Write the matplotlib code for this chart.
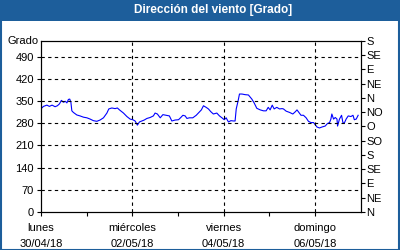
import matplotlib
matplotlib.use("Agg")
import matplotlib.pyplot as plt
from matplotlib.patches import Rectangle

# ── data: hours since lunes 30/04/18 00:00, wind direction in degrees ──
hours = [0, 1.4, 3.2, 4.5, 5.9, 7.5, 8.7, 9.8, 10.8, 11.9, 12.9, 13.7, 14.5, 15.2,
         15.8, 16.3, 17.1, 18.9, 20.6, 22.4, 24.2, 25.9, 27.6, 29.4, 31.1, 32.9,
         34.7, 35.7, 37.3, 39.0, 40.2, 41.3, 43.4, 45.2, 46.9, 48.3, 49.5, 50.7,
         51.8, 53.0, 54.3, 55.7, 57.4, 59.1, 60.0, 61.2, 62.7, 64.1, 65.8, 67.5,
         68.8, 70.5, 72.3, 73.5, 74.6, 75.8, 76.7, 78.0, 79.8, 81.6, 83.0, 84.3,
         85.4, 86.8, 88.0, 89.3, 90.6, 92.4, 93.8, 95.1, 96.3, 97.3, 98.5, 99.8,
         101.2, 102.0, 102.6, 103.6, 104.3, 105.6, 107.3, 109.0, 110.8, 112.0,
         113.4, 115.2, 116.9, 118.3, 119.4, 120.4, 121.5, 122.5, 123.9, 125.3,
         126.7, 127.4, 128.8, 130.6, 132.3, 133.6, 134.5, 135.5, 136.6, 137.9,
         139.3, 140.5, 141.8, 143.2, 145.0, 146.3, 147.6, 149.3, 150.5, 151.6,
         152.3, 152.8, 153.7, 154.6, 155.5, 155.8, 156.8, 157.9, 158.6, 159.3,
         160.3, 161.4, 162.8, 163.9, 164.6, 165.6, 166.6]
direction = [325, 333, 337, 333, 337, 332, 335, 341, 352, 346, 349, 344, 355, 356,
             346, 319, 314, 306, 303, 299, 297, 293, 288, 286, 290, 297,
             312, 325, 328, 326, 328, 322, 312, 301, 293, 291, 287, 274,
             284, 287, 290, 295, 298, 303, 312, 309, 297, 307, 305, 303,
             287, 290, 291, 298, 305, 303, 295, 297, 297, 305, 314, 322,
             335, 330, 325, 316, 309, 312, 303, 297, 291, 297, 284, 288,
             287, 287, 325, 351, 372, 372, 370, 369, 356, 344,
             327, 322, 319, 319, 330, 322, 337, 325, 330, 325,
             326, 325, 318, 314, 309, 316, 322, 314, 305, 305,
             297, 286, 282, 282, 268, 265, 268, 271, 279, 282,
             293, 309, 293, 298, 293, 271, 293, 305, 282, 280,
             293, 303, 301, 305, 291, 293, 305]

day_ticks = [0, 48, 96, 144]
day_labels = ["lunes\n30/04/18", "miércoles\n02/05/18", "viernes\n04/05/18", "domingo\n06/05/18"]
left_ticks = [0, 70, 140, 210, 280, 350, 420, 490]
compass = ["N", "NE", "E", "SE", "S", "SO", "O", "NO", "N", "NE", "E", "SE", "S"]

BLUE = "#1D5E9B"
plt.rcParams["font.family"] = ["Liberation Sans", "DejaVu Sans"]

fig = plt.figure(figsize=(4, 2.5), dpi=100)
fig.patch.set_facecolor("white")

# title bar + frame
fig.patches.append(Rectangle((0, 0.917), 1, 0.083, transform=fig.transFigure,
                             facecolor=BLUE, edgecolor="none", zorder=0))
fig.patches.append(Rectangle((0.0015, 0.002), 0.996, 0.996, transform=fig.transFigure,
                             facecolor="none", edgecolor=BLUE, linewidth=1.5, zorder=1))
fig.text(0.533, 0.958, "Dirección del viento [Grado]", color="white",
         fontsize=8.5, fontweight="bold", ha="center", va="center")

ax = fig.add_axes([0.102, 0.152, 0.8, 0.685])
ax.plot(hours, direction, color="#0000FF", linewidth=0.8)
ax.set_xlim(0, 168)
ax.set_ylim(0, 540)

ax.set_yticks(left_ticks)
ax.set_yticklabels([str(v) for v in left_ticks], fontsize=8)
ax.set_xticks(day_ticks)
ax.set_xticks([24, 72, 120], minor=True)
ax.set_xticklabels(day_labels, fontsize=8, linespacing=1.75)
ax.tick_params(axis="both", which="both", length=3, width=0.8, pad=2, color="black")
ax.tick_params(axis="x", which="major", pad=5)

for v in left_ticks[1:]:
    ax.axhline(v, color="black", linestyle=(0, (3, 3)), linewidth=0.8)
for h in day_ticks[1:]:
    ax.axvline(h, color="black", linestyle=(0, (3, 3)), linewidth=0.8)

for s in ax.spines.values():
    s.set_linewidth(0.8)

ax2 = ax.twinx()
ax2.set_ylim(0, 540)
ax2.set_yticks([45 * i for i in range(len(compass))])
ax2.set_yticklabels(compass, fontsize=8)
ax2.tick_params(axis="y", length=3, width=0.8, pad=1)

fig.text(0.02, 0.835, "Grado", fontsize=8, ha="left", va="center")

plt.savefig("out.png", dpi=100)
